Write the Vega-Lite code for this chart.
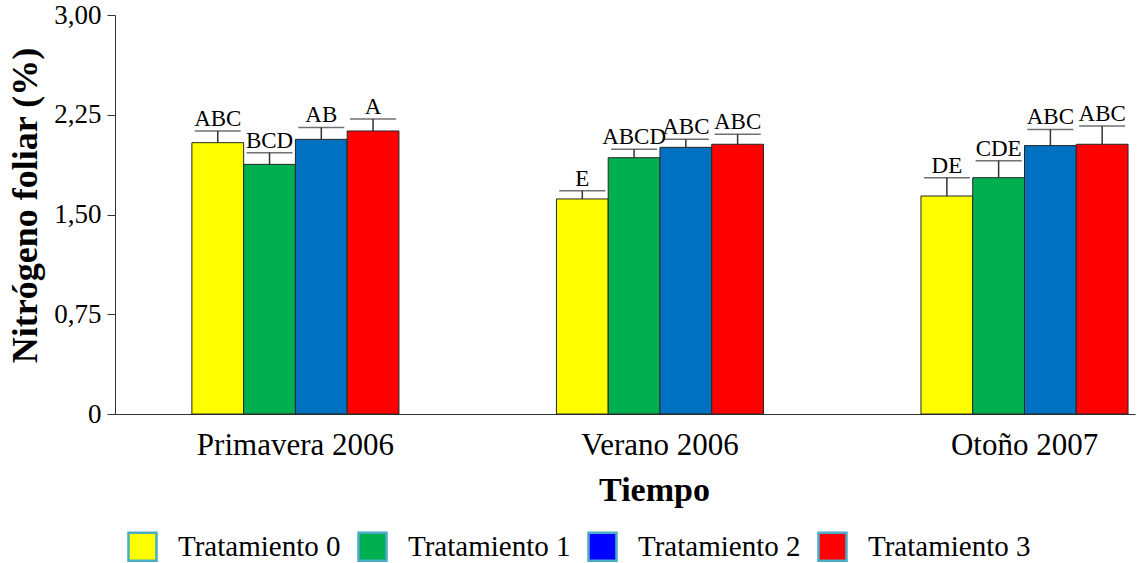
{
  "$schema": "https://vega.github.io/schema/vega-lite/v6.json",
  "width": 1020,
  "height": 399,
  "autosize": "none",
  "padding": {"left": 115, "top": 15, "right": 2, "bottom": 149},
  "background": "white",
  "config": {
    "font": "Liberation Serif",
    "view": {"stroke": null},
    "axis": {"labelFont": "Liberation Serif", "titleFont": "Liberation Serif"},
    "legend": {"labelFont": "Liberation Serif", "titleFont": "Liberation Serif"},
    "text": {"font": "Liberation Serif"}
  },
  "data": {
    "values": [
      {"tiempo": "Primavera 2006", "tratamiento": "Tratamiento 0", "valor": 2.04, "cap": 2.128, "letra": "ABC"},
      {"tiempo": "Primavera 2006", "tratamiento": "Tratamiento 1", "valor": 1.877, "cap": 1.965, "letra": "BCD"},
      {"tiempo": "Primavera 2006", "tratamiento": "Tratamiento 2", "valor": 2.065, "cap": 2.155, "letra": "AB"},
      {"tiempo": "Primavera 2006", "tratamiento": "Tratamiento 3", "valor": 2.128, "cap": 2.218, "letra": "A"},
      {"tiempo": "Verano 2006", "tratamiento": "Tratamiento 0", "valor": 1.617, "cap": 1.679, "letra": "E"},
      {"tiempo": "Verano 2006", "tratamiento": "Tratamiento 1", "valor": 1.927, "cap": 1.99, "letra": "ABCD"},
      {"tiempo": "Verano 2006", "tratamiento": "Tratamiento 2", "valor": 2.005, "cap": 2.065, "letra": "ABC"},
      {"tiempo": "Verano 2006", "tratamiento": "Tratamiento 3", "valor": 2.028, "cap": 2.103, "letra": "ABC"},
      {"tiempo": "Otoño 2007", "tratamiento": "Tratamiento 0", "valor": 1.639, "cap": 1.777, "letra": "DE"},
      {"tiempo": "Otoño 2007", "tratamiento": "Tratamiento 1", "valor": 1.777, "cap": 1.905, "letra": "CDE"},
      {"tiempo": "Otoño 2007", "tratamiento": "Tratamiento 2", "valor": 2.018, "cap": 2.14, "letra": "ABC"},
      {"tiempo": "Otoño 2007", "tratamiento": "Tratamiento 3", "valor": 2.028, "cap": 2.165, "letra": "ABC"}
    ]
  },
  "encoding": {
    "x": {
      "field": "tiempo",
      "type": "nominal",
      "sort": ["Primavera 2006", "Verano 2006", "Otoño 2007"],
      "scale": {"paddingInner": 0.432, "paddingOuter": 0.115, "align": 0.917},
      "title": "Tiempo",
      "axis": {
        "labelAngle": 0,
        "labelFont": "Liberation Serif",
        "labelFontSize": 31,
        "labelColor": "black",
        "labelPadding": 16,
        "labelLimit": 500,
        "labelOverlap": false,
        "ticks": false,
        "domainColor": "#333333",
        "domainWidth": 1,
        "titleFont": "Liberation Serif",
        "titleFontSize": 34,
        "titleFontWeight": "bold",
        "titleColor": "black",
        "titlePadding": 13,
        "titleX": 539,
        "titleAlign": "center"
      }
    },
    "xOffset": {
      "field": "tratamiento",
      "type": "nominal",
      "sort": ["Tratamiento 0", "Tratamiento 1", "Tratamiento 2", "Tratamiento 3"]
    }
  },
  "layer": [
    {
      "mark": {"type": "square", "size": 1, "opacity": 1},
      "encoding": {
        "y": {"field": "valor", "type": "quantitative", "title": "Nitrógeno  foliar (%)"},
        "color": {
          "field": "tratamiento",
          "type": "nominal",
          "scale": {
            "domain": ["Tratamiento 0", "Tratamiento 1", "Tratamiento 2", "Tratamiento 3"],
            "range": ["#FFFF00", "#00B050", "#0000FF", "#FF0000"]
          },
          "legend": {
            "orient": "none",
            "legendX": 12,
            "legendY": 516,
            "direction": "horizontal",
            "columns": 4,
            "title": null,
            "symbolType": "square",
            "symbolSize": 784,
            "symbolOpacity": 1,
            "symbolStrokeColor": "#4BACC6",
            "symbolStrokeWidth": 2.5,
            "labelFont": "Liberation Serif",
            "labelFontSize": 29,
            "labelColor": "black",
            "labelOffset": 20,
            "labelLimit": 400,
            "columnPadding": 12
          }
        }
      }
    },
    {
      "mark": {"type": "bar", "stroke": "#262626", "strokeWidth": 1},
      "encoding": {
        "y": {
          "field": "valor",
          "type": "quantitative",
          "scale": {"domain": [0, 3], "nice": false},
          "title": "Nitrógeno  foliar (%)",
          "axis": {
            "values": [0, 0.75, 1.5, 2.25, 3],
            "labelExpr": "datum.value == 0 ? '0' : replace(format(datum.value, '.2f'), '.', ',')",
            "labelFont": "Liberation Serif",
            "labelFontSize": 27,
            "labelColor": "black",
            "labelPadding": 6,
            "tickSize": 8,
            "tickColor": "#333333",
            "domainColor": "#333333",
            "grid": false,
            "titleFont": "Liberation Serif",
            "titleFontSize": 36,
            "titleFontWeight": "bold",
            "titleColor": "black",
            "titlePadding": 9,
            "titleY": 190
          }
        },
        "color": {
          "field": "tratamiento",
          "type": "nominal",
          "scale": {
            "domain": ["Tratamiento 0", "Tratamiento 1", "Tratamiento 2", "Tratamiento 3"],
            "range": ["#FFFF00", "#00B050", "#0070C0", "#FF0000"]
          },
          "legend": null
        }
      }
    },
    {
      "mark": {"type": "rule", "color": "#333333", "strokeWidth": 1.5},
      "encoding": {
        "y": {"field": "valor", "type": "quantitative", "title": "Nitrógeno  foliar (%)"},
        "y2": {"field": "cap"}
      }
    },
    {
      "mark": {"type": "tick", "color": "#333333", "thickness": 1.5, "size": 46},
      "encoding": {"y": {"field": "cap", "type": "quantitative", "title": "Nitrógeno  foliar (%)"}}
    },
    {
      "mark": {"type": "text", "font": "Liberation Serif", "fontSize": 23, "color": "black", "baseline": "alphabetic", "dy": -5},
      "encoding": {
        "y": {"field": "cap", "type": "quantitative", "title": "Nitrógeno  foliar (%)"},
        "text": {"field": "letra"}
      }
    }
  ],
  "resolve": {"scale": {"color": "independent"}}
}
